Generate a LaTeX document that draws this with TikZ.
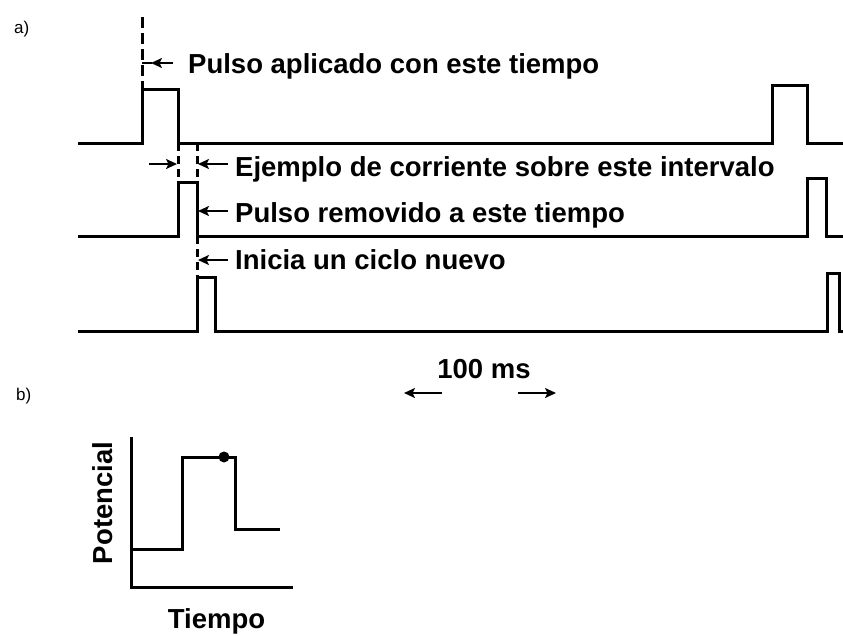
\documentclass[tikz,border=0pt]{standalone}
\usepackage{fontspec}
\setmainfont{Liberation Sans}
\usetikzlibrary{arrows.meta}
\tikzset{
  wave/.style={line width=3pt, line join=miter},
  dash line/.style={line width=3pt, dash pattern=on 8pt off 5pt},
  pointer/.style={line width=2.5pt, -{Stealth[length=11pt,width=10pt,inset=2.5pt]}},
  lbl/.style={font=\fontsize{27.5}{30}\selectfont\bfseries, anchor=base west, inner sep=0pt},
  part/.style={font=\fontsize{17}{20}\selectfont, anchor=base west, inner sep=0pt}
}
\begin{document}
\begin{tikzpicture}[x=1pt,y=-1pt]
\useasboundingbox (0,0) rectangle (843,635);
% part labels
\node[part] (pa) at (14,33) {a)};
\node[part] (pb) at (16,400) {b)};
% applied-pulse marker
\draw[line width=3pt, dash pattern=on 11pt off 5pt] (142,17) -- (142,89);
% row 1
\draw[wave] (78,143) -- (142,143) -- (142,89) -- (178,89) -- (178,143)
  -- (772,143) -- (772,85) -- (807,85) -- (807,143) -- (843,143);
% row 2
\draw[wave] (78,236) -- (178,236) -- (178,182) -- (197,182) -- (197,236)
  -- (807,236) -- (807,178) -- (826,178) -- (826,236) -- (843,236);
% row 3
\draw[wave] (78,331) -- (197,331) -- (197,277) -- (215,277) -- (215,331)
  -- (827,331) -- (827,273) -- (839,273) -- (839,331) -- (843,331);
% dashed guides
\draw[dash line] (178,143) -- (178,182);
\draw[dash line] (197,143) -- (197,182);
\draw[dash line] (197,236) -- (197,277);
% labels
\node[lbl] (t1) at (188,73) {Pulso aplicado con este tiempo};
\node[lbl] (t2) at (235,176) {Ejemplo de corriente sobre este intervalo};
\node[lbl] (t3) at (235,222) {Pulso removido a este tiempo};
\node[lbl] (t4) at (235,269) {Inicia un ciclo nuevo};
% pointers
\coordinate (m1) at (142,63);
\draw[line width=2.5pt] (m1) -- ++(10,0);
\draw[pointer] (173,63) -- (151,63);
\draw[pointer] (149,164) -- (177,164);
\draw[pointer] (228,164) -- (198,164);
\draw[pointer] (228,211) -- (198,211);
\draw[pointer] (228,260) -- (198,260);
% scale
\node[lbl, anchor=base] (ms) at (484,378) {100 ms};
\draw[pointer] (442,393) -- (404,393);
\draw[pointer] (518,393) -- (556,393);
% part b
\draw[wave] (131,437) -- (131,587) -- (293,587);
\draw[wave] (131,549) -- (182,549) -- (182,457) -- (235,457) -- (235,529) -- (280,529);
\fill (224,457) circle (5.5pt);
\node[lbl, anchor=base] (tx) at (216.5,628) {Tiempo};
\node[lbl, anchor=base, rotate=90] (ty) at (112,503) {Potencial};
\end{tikzpicture}
\end{document}
